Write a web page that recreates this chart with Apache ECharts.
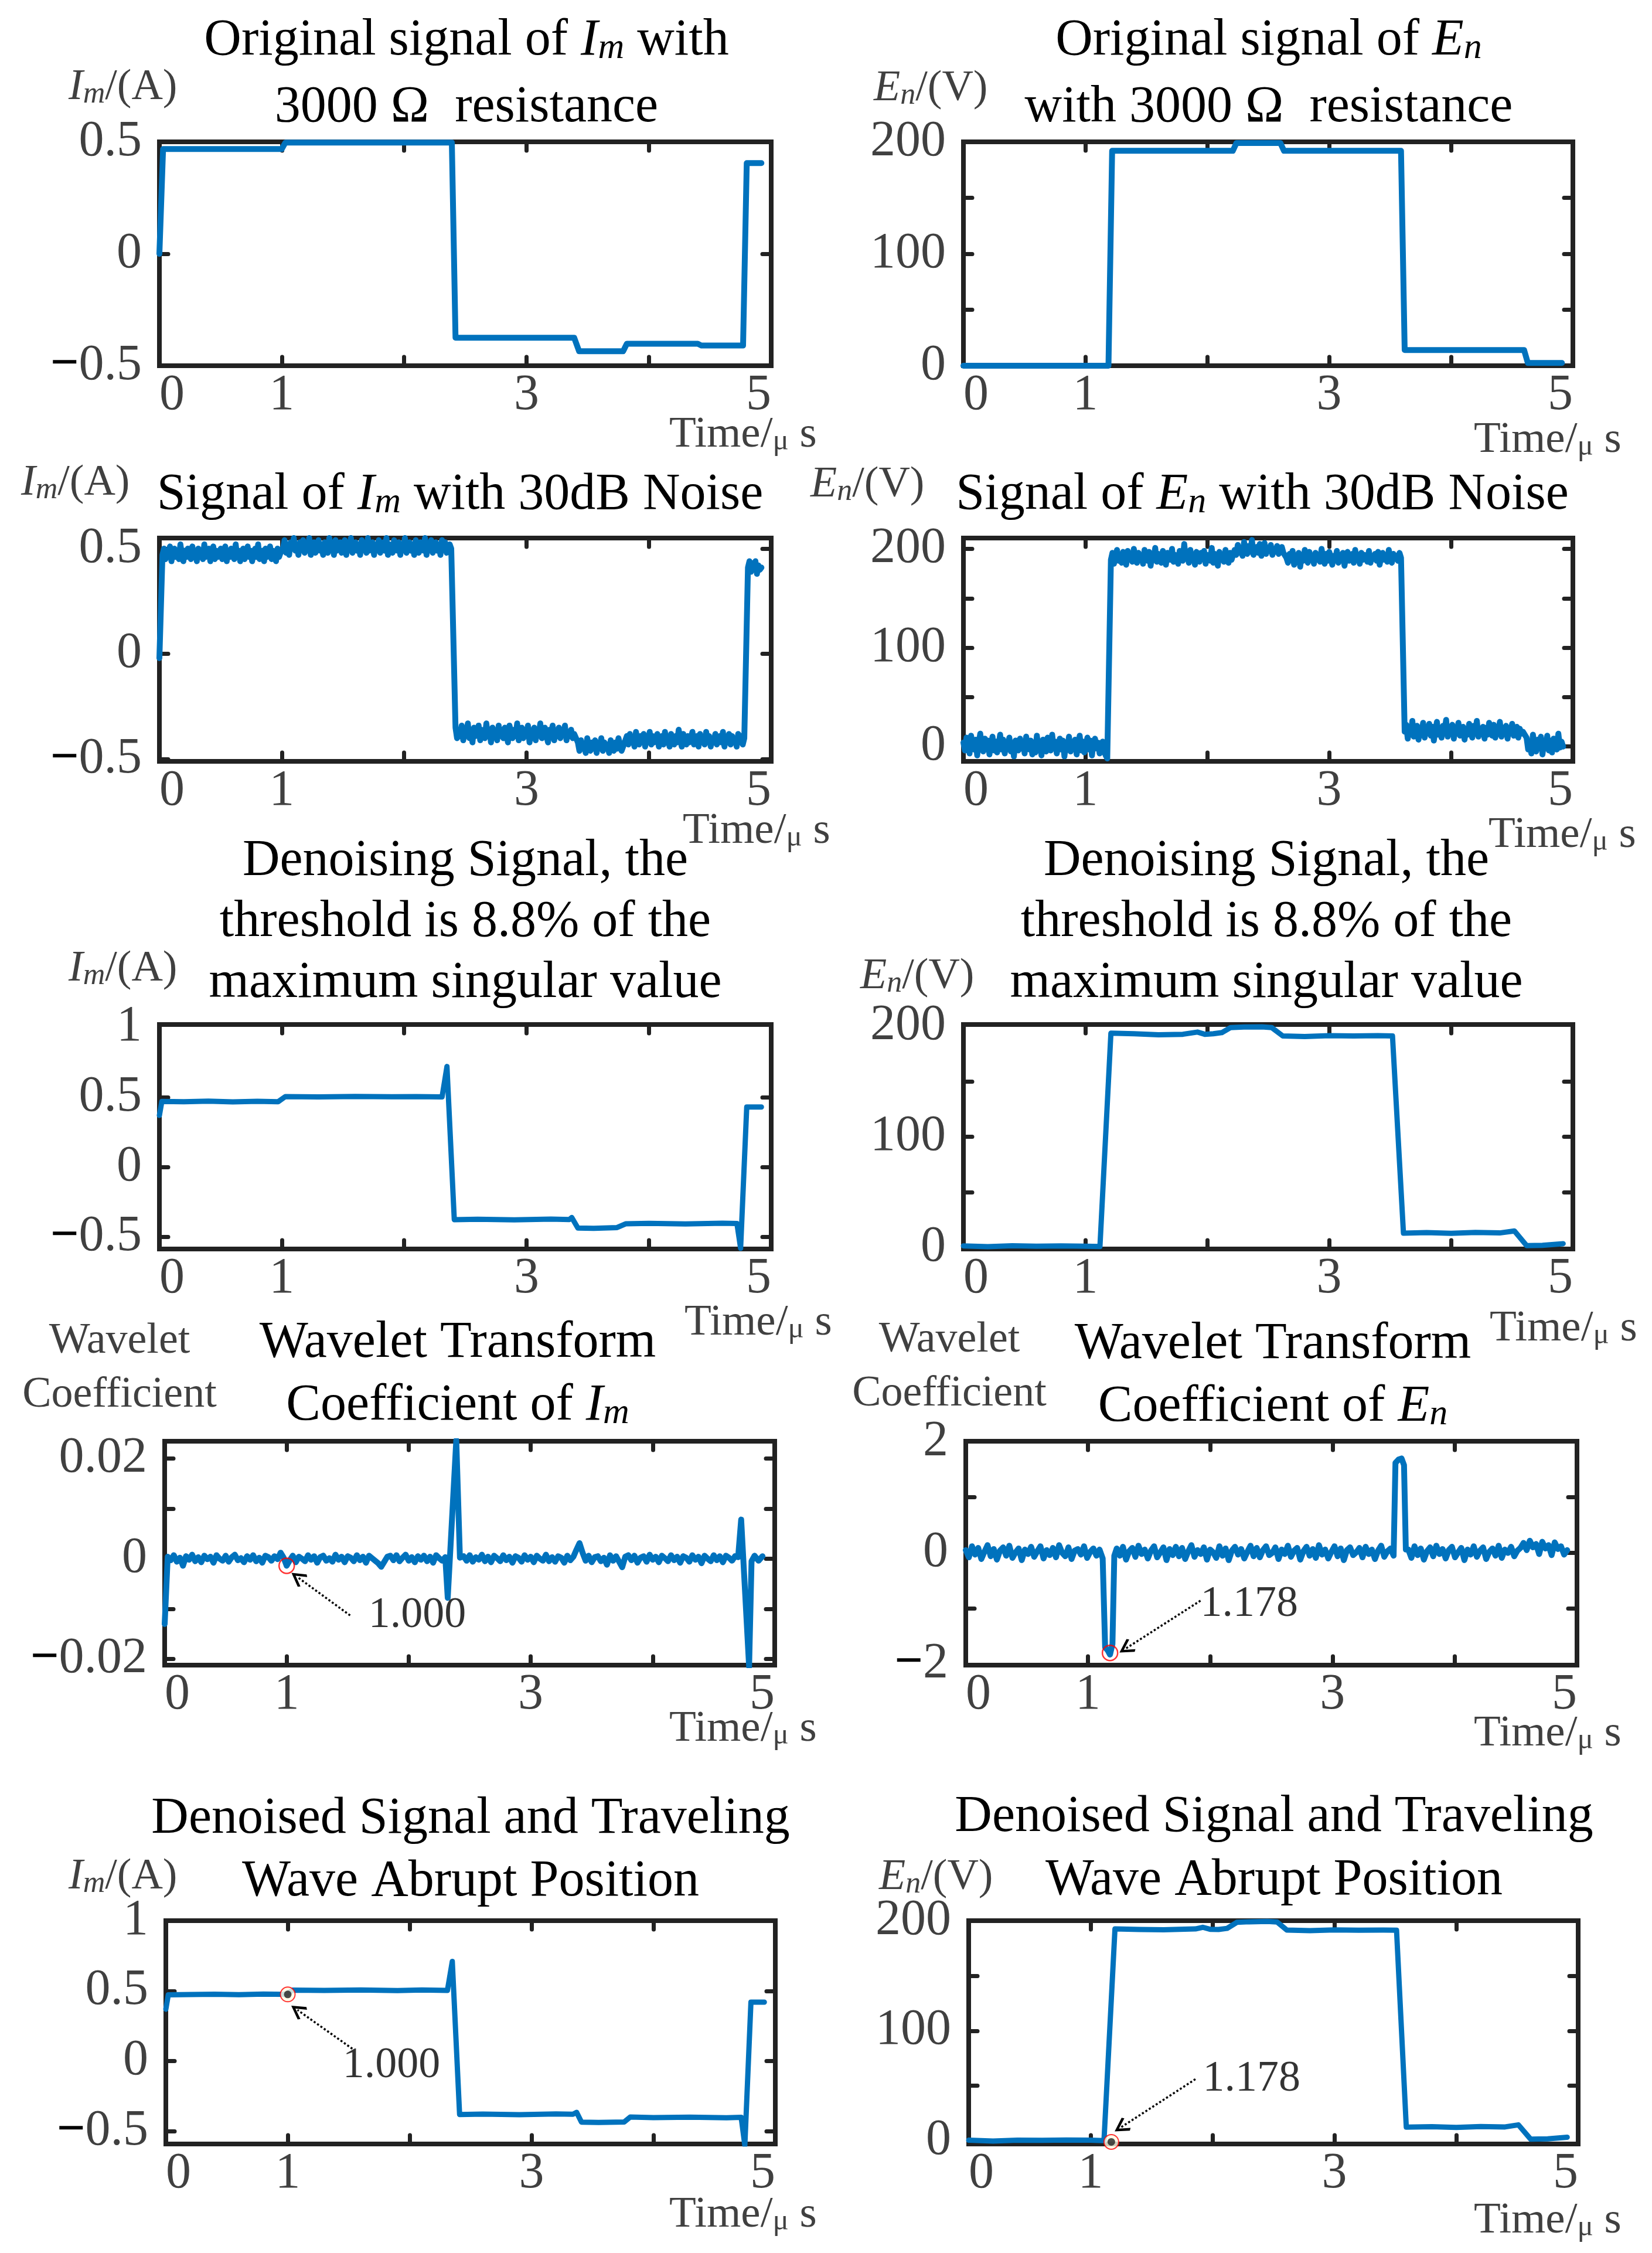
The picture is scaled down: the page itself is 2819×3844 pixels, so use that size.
<!DOCTYPE html>
<html><head><meta charset="utf-8">
<script src="https://cdn.jsdelivr.net/npm/echarts@6/dist/echarts.min.js"></script>
<style>html,body{margin:0;padding:0;background:#fff}#c{width:2819px;height:3844px}</style>
</head><body><div id="c"></div>
<script>
// ================= DATA =================
const xLabelVals = [0, 1, 3, 5];
const xTickVals = [1, 2, 3, 4];

// Panel 1: original Im (A)
const imOrigT = [0, 0.03, 1.00, 1.03, 2.39, 2.42, 3.39, 3.43, 3.79, 3.82, 4.40, 4.43, 4.77, 4.80, 4.92];
const imOrigV = [0, 0.468, 0.468, 0.497, 0.497, -0.375, -0.375, -0.435, -0.435, -0.402, -0.402, -0.41, -0.41, 0.405, 0.405];

// Panel 2: original En (V)
const enOrigT = [0, 1.19, 1.22, 2.21, 2.24, 2.60, 2.63, 3.59, 3.62, 4.60, 4.63, 4.91];
const enOrigV = [0, 0, 192, 192, 199, 199, 192, 192, 14, 14, 2.5, 2.5];

// Panel 3: Im with 30dB noise (segments: time span + sampled values)
const imNoisySegs = [
  {t: [0], v: [-0.02]},
  {t0: 0.025, t1: 0.99, v: [0.47,0.50,0.45,0.49,0.46,0.51,0.44,0.48,0.50,0.46,0.49,0.45,0.52,0.47,0.44,0.49,0.46,0.50,0.48,0.45,
    0.51,0.46,0.48,0.44,0.50,0.47,0.49,0.45,0.52,0.46,0.48,0.50,0.44,0.47,0.51,0.45,0.49,0.46,0.48,0.50,
    0.45,0.47,0.51,0.44,0.49,0.46,0.50,0.48,0.45,0.52,0.46,0.49,0.44,0.48,0.50,0.45,0.47,0.51,0.46,0.49,
    0.44,0.48,0.50,0.46,0.52,0.45,0.47,0.49,0.44,0.50,0.46,0.48,0.51,0.45,0.49,0.47,0.44,0.50,0.46,0.48]},
  {t0: 1.01, t1: 2.385, v: [0.50,0.54,0.48,0.52,0.47,0.53,0.50,0.55,0.49,0.51,0.47,0.53,0.50,0.54,0.48,0.52,0.49,0.55,0.47,0.51,
    0.53,0.48,0.50,0.54,0.49,0.52,0.47,0.53,0.51,0.48,0.55,0.50,0.52,0.47,0.54,0.49,0.51,0.53,0.48,0.50,
    0.54,0.47,0.52,0.50,0.55,0.48,0.51,0.53,0.49,0.52,0.47,0.54,0.50,0.52,0.48,0.55,0.49,0.51,0.53,0.47,
    0.52,0.50,0.54,0.48,0.51,0.53,0.49,0.55,0.47,0.52,0.50,0.48,0.54,0.51,0.49,0.53,0.47,0.52,0.50,0.55,
    0.48,0.51,0.53,0.49,0.52,0.47,0.54,0.50,0.48,0.53,0.51,0.49,0.55,0.47,0.52,0.50,0.54,0.48,0.51,0.53,
    0.49,0.52,0.47,0.54,0.50,0.53,0.48,0.51,0.52,0.50]},
  {t0: 2.42, t1: 3.39, v: [-0.35,-0.40,-0.36,-0.39,-0.34,-0.41,-0.37,-0.38,-0.33,-0.40,-0.36,-0.42,-0.35,-0.39,-0.37,-0.34,-0.41,-0.36,-0.38,-0.40,
    -0.33,-0.39,-0.36,-0.42,-0.35,-0.38,-0.37,-0.41,-0.34,-0.39,-0.36,-0.40,-0.35,-0.38,-0.42,-0.34,-0.37,-0.40,-0.36,-0.39,
    -0.33,-0.41,-0.37,-0.35,-0.40,-0.36,-0.38,-0.34,-0.42,-0.37,-0.39,-0.35,-0.41,-0.36,-0.38,-0.33,-0.40,-0.37,-0.35,-0.39,
    -0.42,-0.36,-0.38,-0.34,-0.41,-0.37,-0.39,-0.35,-0.40,-0.36,-0.38,-0.34,-0.41,-0.37,-0.39,-0.36,-0.40,-0.38]},
  {t0: 3.42, t1: 3.79, v: [-0.42,-0.46,-0.41,-0.45,-0.43,-0.47,-0.40,-0.44,-0.46,-0.42,-0.45,-0.41,-0.47,-0.43,-0.44,
    -0.40,-0.46,-0.42,-0.45,-0.43,-0.47,-0.41,-0.44,-0.46,-0.42,-0.45,-0.40,-0.43,-0.46,-0.44]},
  {t0: 3.82, t1: 4.78, v: [-0.39,-0.43,-0.38,-0.42,-0.40,-0.44,-0.37,-0.41,-0.43,-0.39,-0.42,-0.38,-0.44,-0.40,-0.41,-0.37,-0.43,-0.39,-0.42,-0.40,
    -0.38,-0.44,-0.41,-0.39,-0.43,-0.37,-0.42,-0.40,-0.44,-0.38,-0.41,-0.43,-0.39,-0.42,-0.36,-0.40,-0.44,-0.38,-0.41,-0.43,
    -0.39,-0.42,-0.40,-0.37,-0.43,-0.41,-0.39,-0.44,-0.38,-0.42,-0.40,-0.43,-0.37,-0.41,-0.39,-0.44,-0.40,-0.42,-0.38,-0.43,
    -0.41,-0.39,-0.42,-0.37,-0.44,-0.40,-0.41,-0.38,-0.43,-0.39,-0.42,-0.40,-0.44,-0.38,-0.41,-0.39,-0.43,-0.40]},
  {t0: 4.81, t1: 4.92, v: [0.41,0.44,0.39,0.43,0.40,0.44,0.38,0.42,0.40,0.41]}
];

// Panel 4: En with 30dB noise
const enNoisySegs = [
  {t0: 0, t1: 1.18, v: [4,-4,9,0,-7,11,2,-3,7,-9,3,13,-1,-5,8,-2,6,-8,1,10,
    -4,5,-6,2,12,-3,7,-7,4,-1,9,-5,3,-10,6,0,-4,8,-2,5,
    -7,10,1,-3,6,-8,4,-6,11,-1,3,-9,7,0,-5,9,2,-4,12,-2,
    5,-7,1,8,-3,6,-10,3,-1,10,-5,4,-2,7,-8,2,11,-4,5,-6,
    0,9,-3,6,-9,3,8,-2,4,-7,1,5,-5,-9,-12]},
  {t0: 1.21, t1: 2.20, v: [189,196,185,193,199,188,194,186,197,191,184,198,190,195,187,200,192,186,196,189,
    193,185,199,191,188,197,183,194,190,201,187,195,192,186,198,190,184,196,193,189,
    200,187,194,191,185,198,192,188,205,190,195,186,199,189,193,184,197,191,187,196,
    190,198,185,194,192,188,201,186,195,191,183,197,190,194,187,199,192,186,196,189]},
  {t0: 2.225, t1: 2.625, v: [199,194,204,196,201,193,207,198,195,203,197,209,194,200,202,196,205,193,199,206,
    195,201,198,204,194,200,197,203,195,199,202,196]},
  {t0: 2.65, t1: 3.59, v: [191,186,195,189,198,184,193,190,196,182,194,188,199,191,186,197,190,193,185,196,
    189,194,187,200,191,185,195,188,197,192,184,193,190,198,186,194,189,196,183,192,
    197,188,191,195,186,199,190,193,185,196,189,194,191,187,198,186,193,190,195,188,
    197,184,192,196,189,194,187,199,191,186,195,190,193,188,196,191]},
  {t0: 3.62, t1: 4.59, v: [15,22,8,18,12,26,10,16,21,7,19,13,24,9,17,14,23,11,20,6,
    16,25,12,18,9,21,15,27,10,17,13,22,8,19,14,24,11,16,20,7,
    18,12,23,15,9,21,13,26,10,17,14,20,8,19,12,24,16,11,22,9,
    18,15,25,10,17,13,21,8,19,14,23,11,16,20,9,18,13,15]},
  {t0: 4.62, t1: 4.92, v: [9,-3,5,-7,12,1,-5,7,-2,10,-8,4,0,11,-4,6,-6,8,2,-3,13,-1,5,0]}
];

// Panel 5: denoised Im
const imDenT = [0, 0.02, 0.2, 0.4, 0.6, 0.8, 0.97, 1.03, 1.3, 1.6, 1.9, 2.1, 2.31, 2.35, 2.41, 2.6, 2.9, 3.2, 3.35, 3.37, 3.42, 3.55, 3.74, 3.81, 4.0, 4.3, 4.6, 4.72, 4.75, 4.80, 4.92];
const imDenV = [0.37, 0.47, 0.468, 0.472, 0.467, 0.471, 0.468, 0.505, 0.502, 0.506, 0.503, 0.505, 0.502, 0.72, -0.375, -0.372, -0.376, -0.371, -0.374, -0.36, -0.435, -0.437, -0.432, -0.405, -0.402, -0.406, -0.401, -0.403, -0.58, 0.43, 0.43];

// Panel 6: denoised En
const enDenT = [0, 0.2, 0.4, 0.6, 0.8, 1.0, 1.12, 1.21, 1.4, 1.6, 1.8, 1.92, 1.98, 2.05, 2.12, 2.19, 2.3, 2.45, 2.53, 2.62, 2.8, 3.0, 3.2, 3.4, 3.52, 3.61, 3.8, 4.0, 4.2, 4.4, 4.52, 4.62, 4.75, 4.92];
const enDenV = [1.5, 0.8, 1.6, 1.2, 1.5, 1.2, 1.0, 193.5, 193, 192, 192.5, 194.5, 192.5, 193, 194, 198.5, 199, 199.2, 198.5, 191, 190.5, 191.2, 191, 191.3, 191, 13, 13.5, 12.8, 13.6, 13.2, 15, 1.8, 2, 3.5];

// Panel 7: wavelet coefficient of Im
const imWavSegs = [
  {t: [0], v: [-0.013]},
  {t0: 0.025, t1: 2.30, v: [0.0004,-0.0003,0.0007,-0.0006,0.0002,-0.0014,0.0005,-0.0002,0.0008,-0.0005,
    0.0003,-0.0007,0.0006,-0.0001,0.0004,-0.0008,0.0007,0.0000,-0.0004,0.0006,
    -0.0006,0.0003,0.0008,-0.0003,0.0001,-0.0007,0.0005,-0.0002,0.0007,-0.0005,
    0.0002,-0.0008,0.0006,0.0003,-0.0004,0.0005,-0.0001,0.0012,0.0002,-0.0014,
    -0.0003,0.0006,-0.0007,0.0004,0.0000,-0.0005,0.0007,-0.0002,0.0005,-0.0008,
    0.0003,0.0006,-0.0004,0.0001,-0.0006,0.0008,-0.0002,0.0004,-0.0007,0.0005,
    0.0002,-0.0005,0.0007,-0.0003,0.0004,-0.0008,0.0006,0.0001,-0.0004,-0.0009,
    -0.0016,-0.0006,0.0004,0.0006,-0.0003,0.0007,-0.0005,0.0002,0.0008,-0.0004,
    0.0003,-0.0007,0.0005,-0.0002,0.0006,-0.0005,0.0004,-0.0008,0.0007,0.0001,-0.0004,0.0003]},
  {t: [2.32, 2.39, 2.42], v: [-0.0078, 0.0236, 0.0002]},
  {t0: 2.45, t1: 4.70, v: [0.0005,-0.0004,0.0007,-0.0006,0.0003,-0.0002,0.0008,-0.0005,0.0004,-0.0007,
    0.0006,0.0001,-0.0005,0.0007,-0.0003,0.0004,-0.0008,0.0005,0.0002,-0.0006,
    0.0007,-0.0002,0.0004,-0.0007,0.0006,0.0000,-0.0004,0.0008,-0.0005,0.0003,
    -0.0006,0.0005,0.0002,-0.0008,0.0006,-0.0003,0.0004,0.0018,0.0031,0.0012,
    -0.0004,0.0006,-0.0007,0.0003,0.0005,-0.0005,0.0002,-0.0012,0.0007,-0.0004,
    0.0005,-0.0006,-0.0017,0.0004,0.0007,-0.0003,0.0006,-0.0008,0.0002,0.0005,
    -0.0006,0.0008,-0.0002,0.0004,-0.0007,0.0006,0.0001,-0.0005,0.0007,-0.0003,
    0.0004,-0.0008,0.0005,0.0002,-0.0006,0.0007,-0.0002,0.0004,-0.0009,0.0006,
    0.0000,-0.0005,0.0007,-0.0003,0.0005,-0.0007,0.0006,0.0002,-0.0004,0.0005,0.0003]},
  {t: [4.725, 4.79, 4.81], v: [0.0078, -0.0215, -0.0005]},
  {t0: 4.835, t1: 4.90, v: [0.0006, -0.0004, 0.0005]}
];

// Panel 8: wavelet coefficient of En
const enWavSegs = [
  {t0: 0, t1: 1.12, v: [0.05,-0.08,0.12,-0.03,0.09,-0.11,0.02,0.14,-0.06,0.07,-0.12,0.04,0.10,-0.05,0.13,-0.09,0.01,0.08,-0.13,0.06,-0.02,0.11,-0.07,0.03,0.12,-0.10,0.05,-0.04,0.09,-0.08,0.14,0.00,-0.06,0.10,-0.11,0.04,0.07,-0.03,0.12,-0.09,0.02,0.08,-0.05,0.06,-0.10]},
  {t: [1.14, 1.16, 1.18, 1.20, 1.215], v: [-1.70, -1.75, -1.83, -1.64, -0.05]},
  {t0: 1.235, t1: 3.50, v: [0.08,-0.05,0.11,-0.12,0.03,0.09,-0.07,0.13,-0.02,0.06,-0.10,0.04,0.12,-0.08,0.01,0.10,-0.13,0.07,-0.04,0.11,
    -0.06,0.09,-0.11,0.03,0.14,-0.07,0.05,-0.02,0.10,-0.12,0.06,0.01,-0.09,0.12,-0.05,0.08,-0.13,0.04,0.11,-0.03,
    0.07,-0.10,0.02,0.13,-0.06,0.09,-0.08,0.05,0.12,-0.04,0.00,0.10,-0.11,0.06,-0.02,0.13,-0.07,0.04,0.09,-0.12,
    0.03,0.11,-0.05,0.07,-0.09,0.14,-0.03,0.06,-0.10,0.02,0.12,-0.06,0.08,-0.13,0.05,0.10,-0.04,0.01,0.09,-0.08,
    0.11,-0.02,0.06,-0.11,0.04,0.13,-0.07,0.03,0.08,-0.05]},
  {t: [3.515, 3.54, 3.565, 3.585, 3.60], v: [1.62, 1.68, 1.70, 1.58, 0.06]},
  {t0: 3.62, t1: 4.92, v: [0.06,-0.09,0.12,-0.04,0.08,-0.12,0.03,0.10,-0.06,0.13,-0.02,0.07,-0.10,0.05,0.11,-0.08,0.01,0.09,-0.13,0.06,
    -0.03,0.12,-0.07,0.04,0.10,-0.11,0.02,0.08,-0.05,0.13,-0.09,0.06,0.00,0.11,-0.06,0.04,0.09,0.18,0.05,0.22,
    0.10,0.16,-0.02,0.20,0.08,0.14,-0.04,0.19,0.07,0.12,-0.03,0.05]}
];

// Panel 9: denoised Im with abrupt position
const imFinT = [0, 0.02, 0.2, 0.4, 0.6, 0.8, 0.99, 1.04, 1.3, 1.6, 1.9, 2.1, 2.31, 2.35, 2.41, 2.6, 2.9, 3.2, 3.34, 3.37, 3.41, 3.55, 3.76, 3.81, 4.0, 4.3, 4.6, 4.72, 4.75, 4.80, 4.91];
const imFinV = [0.37, 0.472, 0.474, 0.476, 0.473, 0.477, 0.475, 0.505, 0.503, 0.507, 0.502, 0.506, 0.503, 0.71, -0.38, -0.377, -0.381, -0.376, -0.378, -0.365, -0.435, -0.437, -0.433, -0.398, -0.402, -0.399, -0.403, -0.40, -0.60, 0.42, 0.42];

// Panel 10: denoised En with abrupt position
const enFinT = [0, 0.2, 0.4, 0.6, 0.8, 1.0, 1.11, 1.20, 1.4, 1.6, 1.86, 1.92, 1.98, 2.05, 2.12, 2.20, 2.3, 2.45, 2.53, 2.61, 2.8, 3.0, 3.2, 3.4, 3.51, 3.59, 3.8, 4.0, 4.2, 4.4, 4.51, 4.61, 4.75, 4.91];
const enFinV = [0.5, -0.3, 0.6, 0.4, 0.7, 0.5, 0.2, 192.6, 192, 191.8, 192.5, 194, 192.2, 192, 193, 198.5, 199, 199.3, 198.8, 191.5, 191, 191.6, 191.3, 191.5, 191.4, 12.4, 12.8, 12.2, 13.0, 12.6, 14.5, 1.5, 1.8, 3.2];

// Annotations (data coordinates)
const annImWav = {circle: [1.0, -0.0014], from: [1.52, -0.0113], to: [1.09, -0.0037], text: [1.67, -0.0113], label: '1.000'};
const annEnWav = {circle: [1.18, -1.80], from: [1.92, -0.86], to: [1.31, -1.72], text: [1.92, -0.93], label: '1.178'};
const annImFin = {marker: [1.0, 0.475], from: [1.53, 0.088], to: [1.08, 0.364], text: [1.45, -0.033], label: '1.000'};
const annEnFin = {marker: [1.17, -1], from: [1.86, 56], to: [1.25, 12.3], text: [1.92, 56], label: '1.178'};

// ================= BUILD =================
function zip(t, v) { return t.map((x, i) => [x, v[i]]); }
function fromSegs(segs) {
  const out = [];
  segs.forEach(s => {
    if (s.t) { s.t.forEach((x, i) => out.push([x, s.v[i]])); }
    else { const n = s.v.length; s.v.forEach((y, k) => out.push([n === 1 ? s.t0 : s.t0 + (s.t1 - s.t0) * k / (n - 1), y])); }
  });
  return out;
}

const F = '"Liberation Serif", "Times New Roman", serif';
const GRAY = '#404040';
const AX = '#222222';
const BLUE = '#0072BD';

const IM = '{i|I}{s|m}{n|/(A)}';
const EN = '{i|E}{s|n}{n|/(V)}';

const panels = [
  {box: [272, 242, 1044, 382], yMin: -0.5, yMax: 0.5, yLab: [-0.5, 0, 0.5], yTick: [0], data: zip(imOrigT, imOrigV), lw: 10,
   title: {x: 796, ys: [70, 184], lines: ['{n|Original signal of }{i|I}{s|m}{n| with}', '{n|3000 Ω  resistance}']}, yname: {x: 117, y: 150, s: IM}, time: {x: 1142, y: 742}},
  {box: [1644, 242, 1040, 382], yMin: 0, yMax: 200, yLab: [0, 100, 200], yTick: [50, 100, 150], data: zip(enOrigT, enOrigV), lw: 10,
   title: {x: 2165, ys: [70, 184], lines: ['{n|Original signal of }{i|E}{s|n}', '{n|with 3000 Ω  resistance}']}, yname: {x: 1491, y: 152, s: EN}, time: {x: 2515, y: 751}},
  {box: [272, 918, 1044, 381], yMin: -0.51, yMax: 0.55, yLab: [-0.5, 0, 0.5], yTick: [-0.5, 0, 0.5], data: fromSegs(imNoisySegs), lw: 10,
   title: {x: 785, ys: [845], lines: ['{n|Signal of }{i|I}{s|m}{n| with 30dB Noise}']}, yname: {x: 36, y: 825, s: IM}, time: {x: 1165, y: 1418}},
  {box: [1644, 918, 1040, 381], yMin: -15, yMax: 211, yLab: [0, 100, 200], yTick: [0, 50, 100, 150, 200], data: fromSegs(enNoisySegs), lw: 10,
   title: {x: 2154, ys: [845], lines: ['{n|Signal of }{i|E}{s|n}{n| with 30dB Noise}']}, yname: {x: 1383, y: 828, s: EN}, time: {x: 2540, y: 1425}},
  {box: [272, 1748, 1044, 383], yMin: -0.585, yMax: 1.02, yLab: [-0.5, 0, 0.5, 1], yTick: [-0.5, 0, 0.5], data: zip(imDenT, imDenV), lw: 9,
   title: {x: 794, ys: [1470, 1574, 1678], lines: ['{n|Denoising Signal, the}', '{n|threshold is 8.8% of the}', '{n|maximum singular value}']}, yname: {x: 117, y: 1654, s: IM}, time: {x: 1168, y: 2257}},
  {box: [1644, 1748, 1040, 383], yMin: -1.3, yMax: 201.3, yLab: [0, 100, 200], yTick: [50, 100, 150], data: zip(enDenT, enDenV), lw: 9,
   title: {x: 2161, ys: [1470, 1574, 1678], lines: ['{n|Denoising Signal, the}', '{n|threshold is 8.8% of the}', '{n|maximum singular value}']}, yname: {x: 1468, y: 1667, s: EN}, time: {x: 2542, y: 2267}},
  {box: [281, 2459, 1041, 382], yMin: -0.0212, yMax: 0.0234, yLab: [-0.02, 0, 0.02], yTick: [-0.02, -0.01, 0, 0.01, 0.02], data: fromSegs(imWavSegs), lw: 10,
   title: {x: 781, ys: [2292, 2399], lines: ['{n|Wavelet Transform}', '{n|Coefficient of }{i|I}{s|m}']}, yname2: {x: 204, ys: [2289, 2381]}, time: {x: 1142, y: 2950}, ann: annImWav},
  {box: [1648, 2459, 1043, 382], yMin: -2.02, yMax: 2.01, yLab: [-2, 0, 2], yTick: [-1, 0, 1], data: fromSegs(enWavSegs), lw: 10,
   title: {x: 2172, ys: [2294, 2401], lines: ['{n|Wavelet Transform}', '{n|Coefficient of }{i|E}{s|n}']}, yname2: {x: 1620, ys: [2287, 2379]}, time: {x: 2515, y: 2958}, ann: annEnWav},
  {box: [283, 3277, 1040, 381], yMin: -0.59, yMax: 1.0, yLab: [-0.5, 0, 0.5, 1], yTick: [-0.5, 0, 0.5], data: zip(imFinT, imFinV), lw: 9,
   title: {x: 803, ys: [3104, 3211], lines: ['{n|Denoised Signal and Traveling}', '{n|Wave Abrupt Position}']}, yname: {x: 117, y: 3203, s: IM}, time: {x: 1142, y: 3779}, ann: annImFin},
  {box: [1653, 3277, 1040, 381], yMin: -2.9, yMax: 200, yLab: [0, 100, 200], yTick: [50, 100, 150], data: zip(enFinT, enFinV), lw: 9,
   title: {x: 2174, ys: [3101, 3209], lines: ['{n|Denoised Signal and Traveling}', '{n|Wave Abrupt Position}']}, yname: {x: 1500, y: 3204, s: EN}, time: {x: 2515, y: 3789}, ann: annEnFin}
];

function richSet(fs, sub, color) {
  return {
    n: {fontSize: fs, fontFamily: F, fill: color, color: color},
    i: {fontSize: fs, fontFamily: F, fontStyle: 'italic', fill: color, color: color},
    s: {fontSize: sub, fontFamily: F, fontStyle: 'italic', fill: color, color: color, lineHeight: Math.round(sub * 0.4), verticalAlign: 'bottom'},
    u: {fontSize: Math.round(fs * 0.68), fontFamily: F, fill: color, color: color, lineHeight: Math.round(fs * 0.78), verticalAlign: 'bottom'}
  };
}
function txt(x, y, str, fs, sub, color, align) {
  return {type: 'text', x: x, y: y, silent: true, z: 20,
    style: {text: str, fontSize: fs, fontFamily: F, fill: color, align: align, verticalAlign: 'middle',
      textAlign: align, textVerticalAlign: 'middle', rich: richSet(fs, sub, color)}};
}

const CHEV = 'path://M0,0 L10,13 L7.5,15 L0,5 L-7.5,15 L-10,13 Z';

const option = {animation: false, backgroundColor: '#ffffff', grid: [], xAxis: [], yAxis: [], series: [], graphic: {elements: []}};
const tick = {show: true, inside: true, length: 15, lineStyle: {color: AX, width: 7, cap: 'round'}};
const noLine = {show: false, onZero: false};
const numRich = {m: {color: '#000', fontSize: 86, fontFamily: F, fontWeight: 'bold'}, g: {color: GRAY, fontSize: 86, fontFamily: F}};
function yFmt(v) { const s = String(+Math.abs(v).toFixed(4)); return v < 0 ? '{m|−}{g|' + s + '}' : '{g|' + s + '}'; }

panels.forEach((p, k) => {
  option.grid.push({left: p.box[0], top: p.box[1], width: p.box[2], height: p.box[3], show: true,
    borderColor: AX, borderWidth: 8, backgroundColor: 'rgba(0,0,0,0)'});
  option.xAxis.push({type: 'value', gridIndex: k, min: 0, max: 5, position: 'bottom',
    axisLine: noLine, splitLine: {show: false},
    axisTick: Object.assign({}, tick, {customValues: xTickVals}),
    axisLabel: {customValues: xLabelVals, fontSize: 86, fontFamily: F, color: GRAY, margin: 8,
      alignMinLabel: 'left', alignMaxLabel: 'right', formatter: v => String(v)}});
  option.xAxis.push({type: 'value', gridIndex: k, min: 0, max: 5, position: 'top',
    axisLine: noLine, splitLine: {show: false},
    axisTick: Object.assign({}, tick, {customValues: xTickVals}), axisLabel: {show: false}});
  option.yAxis.push({type: 'value', gridIndex: k, min: p.yMin, max: p.yMax, position: 'left',
    axisLine: noLine, splitLine: {show: false},
    axisTick: Object.assign({}, tick, {customValues: p.yTick}),
    axisLabel: {customValues: p.yLab, margin: 30, formatter: yFmt, rich: numRich}});
  option.yAxis.push({type: 'value', gridIndex: k, min: p.yMin, max: p.yMax, position: 'right',
    axisLine: noLine, splitLine: {show: false},
    axisTick: Object.assign({}, tick, {customValues: p.yTick}), axisLabel: {show: false}});
  const xi = 2 * k, yi = 2 * k;
  option.series.push({type: 'line', xAxisIndex: xi, yAxisIndex: yi, data: p.data, symbol: 'none', showSymbol: false,
    lineStyle: {color: BLUE, width: p.lw, join: 'round', cap: 'round'}, z: 3, silent: true, clip: true});

  if (p.ann) {
    const a = p.ann;
    option.series.push({type: 'scatter', xAxisIndex: xi, yAxisIndex: yi, data: [a.text], symbolSize: 0.1,
      itemStyle: {color: 'rgba(0,0,0,0)'}, z: 6, silent: true,
      label: {show: true, position: 'right', distance: 0, formatter: a.label, fontSize: 74, fontFamily: F, color: '#000'},
      markLine: {silent: true, symbol: ['none', CHEV], symbolSize: 26, label: {show: false},
        lineStyle: {color: '#000', width: 3.5, type: 'dotted'},
        data: [[{coord: a.from}, {coord: a.to}]]}});
    if (a.circle) {
      option.series.push({type: 'scatter', xAxisIndex: xi, yAxisIndex: yi, data: [a.circle], symbol: 'circle', symbolSize: 26,
        itemStyle: {color: 'rgba(0,0,0,0)', borderColor: '#ff0000', borderWidth: 2.5}, z: 7, silent: true});
    }
    if (a.marker) {
      option.series.push({type: 'scatter', xAxisIndex: xi, yAxisIndex: yi, data: [a.marker], symbol: 'circle', symbolSize: 25,
        itemStyle: {color: '#FFFBE3', borderColor: '#ff0000', borderWidth: 2}, z: 7, silent: true});
      option.series.push({type: 'scatter', xAxisIndex: xi, yAxisIndex: yi, data: [a.marker], symbol: 'circle', symbolSize: 13,
        itemStyle: {color: '#222'}, z: 8, silent: true});
    }
  }

  const g = option.graphic.elements;
  p.title.lines.forEach((l, j) => g.push(txt(p.title.x, p.title.ys[j], l, 88, 62, '#000', 'center')));
  if (p.yname) g.push(txt(p.yname.x, p.yname.y, p.yname.s, 74, 52, GRAY, 'left'));
  if (p.yname2) {
    g.push(txt(p.yname2.x, p.yname2.ys[0], '{n|Wavelet}', 74, 52, GRAY, 'center'));
    g.push(txt(p.yname2.x, p.yname2.ys[1], '{n|Coefficient}', 74, 52, GRAY, 'center'));
  }
  g.push(txt(p.time.x, p.time.y, '{n|Time/}{u|μ}{n| s}', 75, 52, GRAY, 'left'));
});

const chart = echarts.init(document.getElementById('c'), null, {renderer: 'canvas', width: 2819, height: 3844});
chart.setOption(option);
</script></body></html>
